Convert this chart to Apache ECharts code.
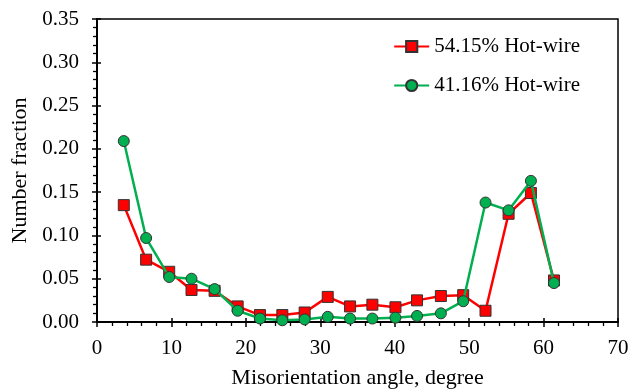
<!DOCTYPE html>
<html lang="en">
<head>
    <meta charset="UTF-8">
    <title>Misorientation angle</title>
    <style>
        html, body { margin: 0; padding: 0; background: #fff; }
        #chart { width: 630px; height: 391px; }
    </style>
    <script src="https://cdn.jsdelivr.net/npm/echarts@6/dist/echarts.min.js"></script>
</head>
<body>
    <div id="chart"></div>
    <script>
        // misorientation angle (degree) of each bin
        var angles = [3.6, 6.6, 9.7, 12.7, 15.8, 18.9, 21.9, 24.9, 27.9, 31.0,
                      34.0, 37.0, 40.1, 43.0, 46.2, 49.2, 52.2, 55.3, 58.3, 61.4];
        var hot5415 = [0.135, 0.072, 0.058, 0.037, 0.036, 0.018, 0.008, 0.008, 0.011, 0.029,
                       0.018, 0.020, 0.017, 0.025, 0.030, 0.031, 0.013, 0.125, 0.149, 0.048];
        var hot4116 = [0.209, 0.097, 0.052, 0.050, 0.038, 0.013, 0.004, 0.002, 0.003, 0.006,
                       0.004, 0.004, 0.005, 0.007, 0.010, 0.024, 0.138, 0.129, 0.163, 0.045];
        var seriesNames = ['54.15% Hot-wire', '41.16% Hot-wire'];

        function pairs(ys) {
            return angles.map(function (x, i) { return [x, ys[i]]; });
        }

        var font = 'Liberation Serif';
        var black = '#000';
        var chart = echarts.init(document.getElementById('chart'));

        // second pair of axes only draws the inner half of the major ticks
        var innerTicks = {
            axisLine: { show: false },
            axisTick: { inside: true, length: 4, lineStyle: { color: black, width: 1.5 } },
            axisLabel: { show: false },
            splitLine: { show: false }
        };

        chart.setOption({
            animation: false,
            textStyle: { fontFamily: font },
            grid: {
                left: 97, top: 19, right: 12, bottom: 69,
                outerBoundsMode: 'none',
                show: true, borderColor: black, borderWidth: 1.5
            },
            legend: {
                orient: 'vertical',
                right: 45,
                top: 31,
                itemWidth: 35,
                itemHeight: 14,
                itemGap: 18,
                textStyle: { fontFamily: font, fontSize: 21, color: black },
                data: seriesNames
            },
            xAxis: [{
                type: 'value',
                min: 0, max: 70, interval: 10,
                name: 'Misorientation angle, degree',
                nameLocation: 'middle',
                nameGap: 45,
                nameTextStyle: { fontFamily: font, fontSize: 22, color: black },
                axisLine: { lineStyle: { color: black, width: 2 } },
                axisTick: { length: 5, lineStyle: { color: black, width: 1.5 } },
                minorTick: { show: true, splitNumber: 5, length: 4, lineStyle: { color: black, width: 1.3 } },
                axisLabel: { fontFamily: font, fontSize: 21, color: black, margin: 16 },
                splitLine: { show: false }
            }, Object.assign({ type: 'value', min: 0, max: 70, interval: 10, position: 'bottom' }, innerTicks)],
            yAxis: [{
                type: 'value',
                min: 0, max: 0.35, interval: 0.05,
                name: 'Number fraction',
                nameLocation: 'middle',
                nameGap: 63,
                nameTextStyle: { fontFamily: font, fontSize: 22, color: black },
                axisLine: { lineStyle: { color: black, width: 2 } },
                axisTick: { length: 5, lineStyle: { color: black, width: 1.5 } },
                minorTick: { show: true, splitNumber: 5, length: 4, lineStyle: { color: black, width: 1.3 } },
                axisLabel: {
                    fontFamily: font, fontSize: 21, color: black, margin: 18,
                    formatter: function (v) { return v.toFixed(2); }
                },
                splitLine: { show: false }
            }, Object.assign({ type: 'value', min: 0, max: 0.35, interval: 0.05, position: 'left' }, innerTicks)],
            series: [
                {
                    name: seriesNames[0],
                    type: 'line',
                    data: pairs(hot5415),
                    symbol: 'rect',
                    symbolSize: 11,
                    lineStyle: { color: '#ff0000', width: 2.5 },
                    itemStyle: { color: '#ff0000', borderColor: '#333', borderWidth: 1 },
                    z: 3
                },
                {
                    name: seriesNames[1],
                    type: 'line',
                    data: pairs(hot4116),
                    symbol: 'circle',
                    symbolSize: 11,
                    lineStyle: { color: '#00b050', width: 2.5 },
                    itemStyle: { color: '#00b050', borderColor: '#333', borderWidth: 1 },
                    z: 4
                }
            ]
        });
    </script>
</body>
</html>
